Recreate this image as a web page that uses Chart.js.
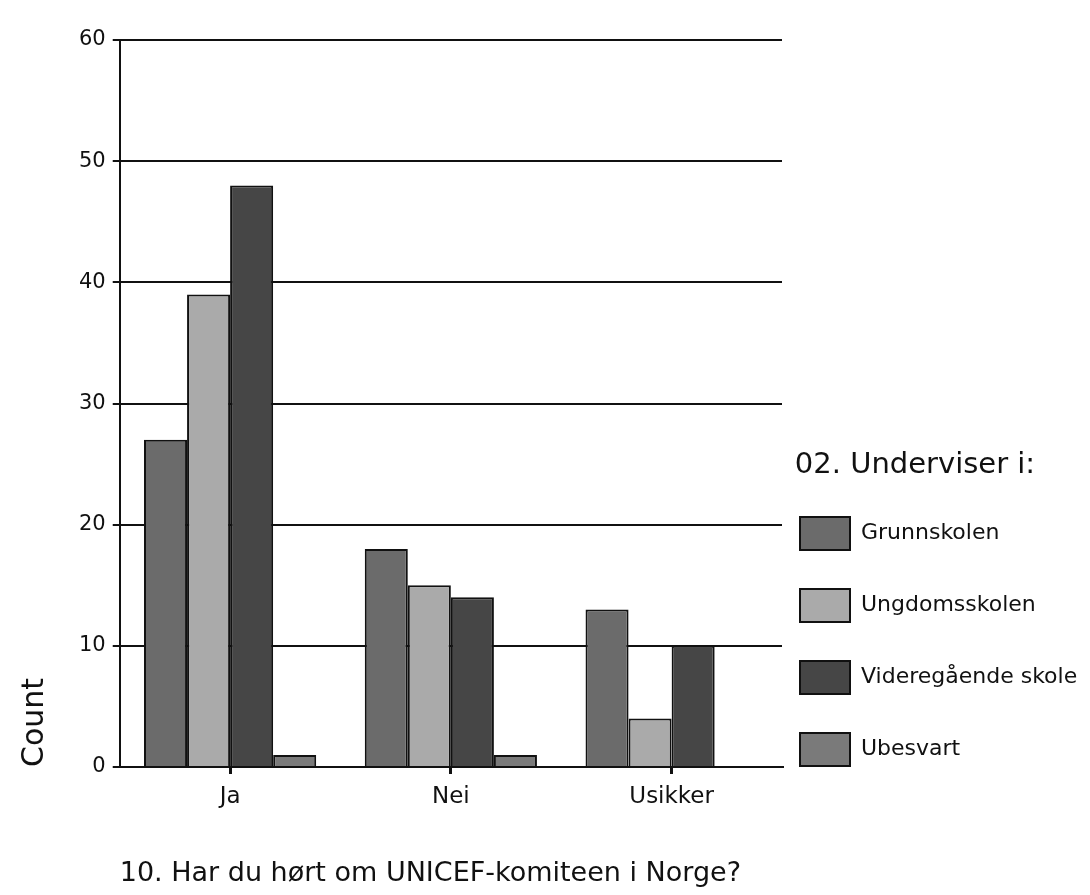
<!DOCTYPE html>
<html>
<head>
<meta charset="utf-8">
<script src="https://cdn.jsdelivr.net/npm/chart.js@4/dist/chart.umd.min.js"></script>
<style>
  html, body { margin: 0; padding: 0; background: #fff; }
  #wrap { width: 1090px; height: 895px; position: relative; }
</style>
</head>
<body>
<div id="wrap"><canvas id="chart"></canvas></div>
<script>
  const categories = ["Ja", "Nei", "Usikker"];
  const seriesNames = ["Grunnskolen", "Ungdomsskolen", "Videregående skole", "Ubesvart"];
  const grunnskolen = [27, 18, 13];
  const ungdomsskolen = [39, 15, 4];
  const videregaende = [48, 14, 10];
  const ubesvart = [1, 1, 0];
  const yTicks = [0, 10, 20, 30, 40, 50, 60];

  const fills = ["#6b6b6b", "#aaaaaa", "#464646", "#7a7a7a"];
  const values = [grunnskolen, ungdomsskolen, videregaende, ubesvart];
  const font = "'DejaVu Sans', 'Liberation Sans', Arial, sans-serif";
  const ink = "#111";

  const datasets = seriesNames.map((name, i) => ({
    label: name,
    data: values[i],
    backgroundColor: fills[i],
    borderColor: ink,
    borderWidth: 2,
    borderSkipped: "bottom",
    categoryPercentage: 0.78,
    barPercentage: 1.0
  }));

  // nudge the legend a bit left/down so it sits like the original
  const legendNudge = {
    id: "legendNudge",
    afterLayout(chart) {
      const lg = chart.legend;
      if (!lg) return;
      lg.left -= 21;
      lg.top += 38; lg.bottom += 38;
    }
  };

  new Chart(document.getElementById("chart"), {
    type: "bar",
    data: { labels: categories, datasets },
    plugins: [legendNudge],
    options: {
      responsive: true,
      maintainAspectRatio: false,
      animation: false,
      layout: { padding: { top: 40, left: 5, right: 0, bottom: 5 } },
      plugins: {
        tooltip: { enabled: false },
        legend: {
          position: "right",
          align: "end",
          fullSize: false,
          maxWidth: 308,
          title: {
            display: true,
            text: "02. Underviser i:",
            position: "center",
            color: ink,
            font: { family: font, size: 29 },
            padding: { top: 0, bottom: -8 }
          },
          labels: {
            boxWidth: 50,
            boxHeight: 33,
            padding: 39,
            color: ink,
            font: { family: font, size: 22 }
          }
        }
      },
      scales: {
        x: {
          grid: { display: true, drawOnChartArea: false, offset: false, drawTicks: true, tickLength: 7, color: ink, lineWidth: 3 },
          border: { display: true, color: ink, width: 2 },
          ticks: { color: ink, font: { family: font, size: 23 }, padding: 9 },
          title: {
            display: true,
            text: "10. Har du hørt om UNICEF-komiteen i Norge?",
            align: "start",
            color: ink,
            font: { family: font, size: 27 },
            padding: { top: 38, bottom: 0 }
          }
        },
        y: {
          min: 0,
          max: 60,
          afterBuildTicks: (axis) => { axis.ticks = yTicks.map(v => ({ value: v })); },
          grid: { color: ink, lineWidth: 2, drawTicks: true, tickLength: 7 },
          border: { display: true, color: ink, width: 2 },
          ticks: { color: ink, font: { family: font, size: 21 }, padding: 7 },
          title: {
            display: true,
            text: "Count",
            align: "start",
            color: ink,
            font: { family: font, size: 30 },
            padding: { top: 12, bottom: 19 }
          }
        }
      }
    }
  });
</script>
</body>
</html>
